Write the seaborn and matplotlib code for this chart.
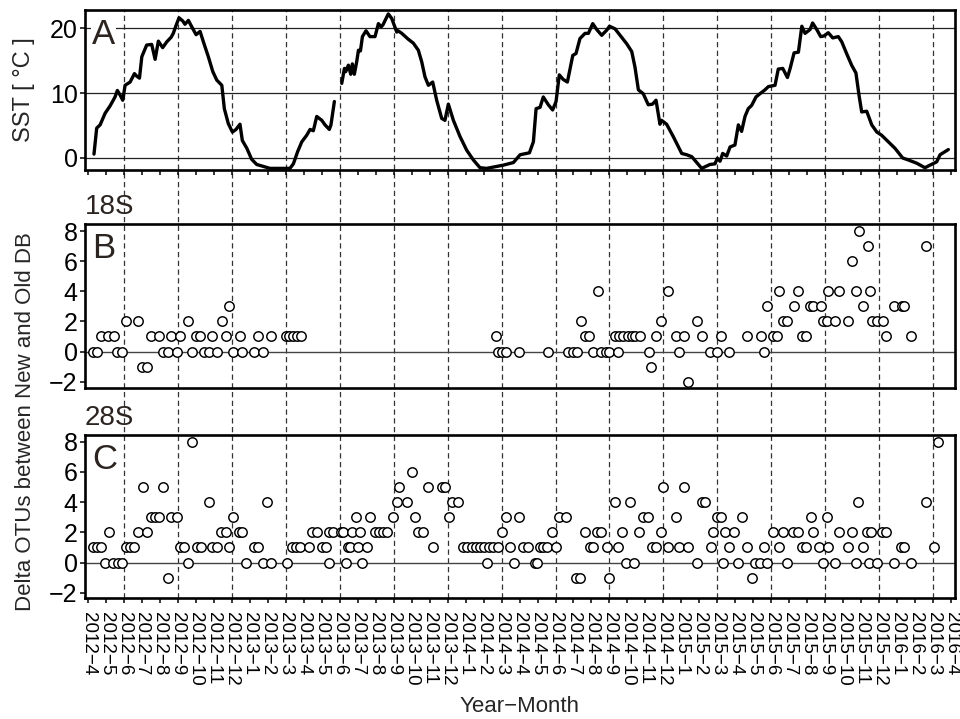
import matplotlib
matplotlib.use("Agg")
import numpy as np
import pandas as pd
import seaborn as sns
import matplotlib.pyplot as plt
from matplotlib.lines import Line2D
from matplotlib.transforms import blended_transform_factory

# ---------------- data ----------------
# x tick labels: one per month, 2012-4 .. 2016-4
month_labels = ["2012-4", "2012-5", "2012-6", "2012-7", "2012-8", "2012-9", "2012-10", "2012-11", "2012-12",
                "2013-1", "2013-2", "2013-3", "2013-4", "2013-5", "2013-6", "2013-7", "2013-8", "2013-9",
                "2013-10", "2013-11", "2013-12", "2014-1", "2014-2", "2014-3", "2014-4", "2014-5", "2014-6",
                "2014-7", "2014-8", "2014-9", "2014-10", "2014-11", "2014-12", "2015-1", "2015-2", "2015-3",
                "2015-4", "2015-5", "2015-6", "2015-7", "2015-8", "2015-9", "2015-10", "2015-11", "2015-12",
                "2016-1", "2016-2", "2016-3", "2016-4"]

# SST time series (time in months since 2012-4 start), two sampling segments
sst_t = [0.33, 0.48, 0.67, 0.95, 1.22, 1.50, 1.63, 1.78, 1.93, 2.06, 2.34, 2.58, 2.71, 2.86, 2.99, 3.26, 3.54,
         3.73, 3.91, 4.15, 4.38, 4.62, 4.74, 4.88, 5.06, 5.27, 5.39, 5.58, 5.77, 6.01, 6.23, 6.45, 6.69, 6.94,
         7.16, 7.44, 7.58, 7.80, 8.03, 8.23, 8.45, 8.58, 8.83, 9.10, 9.38, 9.75, 10.12, 10.60, 11.23, 11.42,
         11.66, 11.89, 12.16, 12.35, 12.53, 12.72, 13.00, 13.18, 13.42, 13.51, 13.70,
         14.11, 14.26, 14.33, 14.48, 14.61, 14.70, 14.81, 14.94, 15.04, 15.15, 15.26, 15.46, 15.68, 15.96,
         16.15, 16.30, 16.40, 16.70, 16.89, 17.17, 17.24, 17.45, 17.81, 18.09, 18.37, 18.56, 18.74, 18.93,
         19.17, 19.39, 19.67, 19.85, 20.04, 20.32, 20.69, 21.06, 21.43, 21.80, 22.17, 22.73, 23.10, 23.66,
         24.03, 24.55, 24.77, 24.92, 25.14, 25.32, 25.60, 25.84, 26.03, 26.21, 26.43, 26.66, 26.96, 27.14,
         27.36, 27.64, 27.83, 28.07, 28.29, 28.57, 28.85, 29.00, 29.31, 29.59, 29.96, 30.24, 30.42, 30.61,
         30.88, 31.16, 31.40, 31.59, 31.81, 31.90, 32.18, 32.55, 33.02, 33.30, 33.58, 34.13, 34.59, 34.87,
         35.00, 35.15, 35.30, 35.52, 35.71, 35.98, 36.17, 36.35, 36.54, 36.72, 36.91, 37.15, 37.37, 37.65,
         37.84, 38.21, 38.39, 38.64, 38.90, 39.05, 39.27, 39.51, 39.70, 39.88, 40.16, 40.30, 40.53, 40.75,
         40.93, 41.17, 41.42, 41.73, 41.92, 42.19, 42.47, 42.71, 42.88, 43.03, 43.31, 43.59, 43.87, 44.14,
         44.51, 44.88, 45.31, 45.62, 46.09, 46.55, 46.83, 47.20, 47.39, 47.85]
sst_v = [0.6, 4.6, 5.1, 6.9, 8.0, 9.4, 10.4, 9.7, 8.9, 11.2, 11.7, 13.0, 12.6, 12.3, 15.6, 17.4, 17.5,
         15.2, 18.0, 17.0, 17.9, 18.6, 19.2, 20.3, 21.6, 21.1, 20.6, 21.2, 20.2, 19.0, 19.5, 17.6, 15.6, 13.3,
         12.0, 11.2, 7.6, 5.3, 4.0, 4.4, 5.2, 2.7, 1.5, -0.2, -1.0, -1.3, -1.6, -1.6, -1.6, -0.9,
         1.0, 2.5, 3.5, 4.4, 4.2, 6.4, 5.8, 5.1, 4.4, 5.1, 8.7,
         11.5, 13.8, 13.3, 14.3, 12.9, 14.5, 12.9, 14.8, 16.6, 16.5, 18.7, 19.6, 18.7, 18.7,
         20.7, 20.2, 20.5, 22.2, 21.5, 19.4, 19.6, 19.2, 18.3, 17.7, 16.6, 14.8, 12.5, 11.2,
         11.7, 8.9, 6.1, 5.8, 8.3, 5.8, 3.3, 1.2, -0.3, -1.5, -1.6, -1.3, -1.1, -0.7,
         0.5, 0.8, 2.5, 7.6, 7.8, 9.4, 8.2, 7.4, 8.7, 12.8, 12.1, 11.7, 15.8, 16.1,
         18.4, 19.2, 19.2, 20.7, 19.8, 18.9, 19.7, 20.3, 19.9, 18.9, 17.6, 16.4, 14.0, 10.5,
         9.9, 8.2, 8.3, 8.9, 5.2, 5.8, 5.2, 3.3, 0.7, 0.5, 0.2, -1.6, -1.0, -0.9,
         -0.05, -0.5, 0.7, 0.3, 1.7, 2.0, 5.1, 4.1, 6.4, 7.6, 8.1, 9.4, 9.9, 10.5,
         11.0, 11.2, 13.7, 13.8, 12.4, 13.8, 16.2, 16.3, 20.3, 19.2, 19.8, 20.8, 19.8, 18.7,
         18.8, 19.3, 18.5, 18.7, 17.9, 16.1, 14.3, 13.1, 9.7, 7.1, 7.2, 5.1, 4.0, 3.5,
         2.5, 1.5, 0.0, -0.3, -0.8, -1.5, -1.1, -0.6, 0.5, 1.3]
sst_seg = [1] * 61 + [2] * (len(sst_t) - 61)

# Panel B (18S): sampling time (months since 2012-4) and delta OTUs
b_t = [0.26, 0.50, 0.72, 1.13, 1.43, 1.63, 1.91, 2.11, 2.80, 3.00, 3.26, 3.49, 3.97, 4.15, 4.43, 4.63, 4.93,
       5.12, 5.58, 5.78, 6.01, 6.25, 6.45, 6.71, 6.91, 7.17, 7.44, 7.68, 7.86, 8.08, 8.44, 8.57, 9.23, 9.46,
       9.75, 10.16, 11.01, 11.20, 11.38, 11.61, 11.85,
       22.69, 22.82, 23.01, 23.25, 23.99, 25.58, 26.71, 26.96, 27.18, 27.40, 27.64, 27.88, 28.10, 28.38,
       28.53, 28.81, 28.99, 29.29, 29.49, 29.55, 29.77, 30.01, 30.24, 30.44, 30.70, 31.18, 31.31, 31.59,
       31.85, 32.28, 32.69, 32.89, 33.17, 33.39, 33.85, 34.13, 34.59, 35.00, 35.19, 35.65, 36.67, 37.41,
       37.61, 37.78, 38.08, 38.30, 38.45, 38.64, 38.89, 39.28, 39.51, 39.69, 39.93, 40.16, 40.34, 40.75,
       40.90, 41.08, 41.17, 41.55, 41.79, 42.29, 42.49, 42.71, 42.86, 43.08, 43.40, 43.49, 43.58, 43.86,
       44.23, 44.38, 44.85, 45.25, 45.40, 45.77, 46.61]
b_v = [0, 0, 1, 1, 1, 0, 0, 2, 2, -1, -1, 1, 1, 0, 0, 1, 0,
       1, 2, 0, 1, 1, 0, 0, 1, 0, 2, 1, 3, 0, 1, 0, 0, 1,
       0, 1, 1, 1, 1, 1, 1,
       1, 0, 0, 0, 0, 0, 0, 0, 0, 2, 1, 1, 0, 4,
       0, 0, 0, 1, 0, 1, 1, 1, 1, 1, 1, 0, -1, 1,
       2, 4, 1, 0, 1, -2, 2, 1, 0, 0, 1, 0, 1, 1,
       0, 3, 1, 1, 4, 2, 2, 3, 4, 1, 1, 3, 3, 3,
       2, 2, 4, 2, 4, 2, 6, 4, 8, 3, 7, 4, 2, 2,
       2, 1, 3, 3, 3, 1, 7]

# Panel C (28S)
c_t = [0.26, 0.50, 0.72, 0.95, 1.19, 1.41, 1.65, 1.89, 2.11, 2.34, 2.58, 2.80, 3.04, 3.26, 3.49, 3.73, 3.97,
       4.19, 4.47, 4.62, 4.93, 5.12, 5.36, 5.58, 5.80, 6.05, 6.28, 6.73, 6.91, 7.16, 7.38, 7.66, 7.84, 8.08,
       8.40, 8.58, 8.79, 9.23, 9.47, 9.72, 9.94, 10.16, 11.09, 11.33, 11.55, 11.79, 12.31, 12.48, 12.72,
       13.00, 13.24, 13.40, 13.40, 13.64, 14.05, 14.20, 14.33, 14.48, 14.57, 14.67, 14.89, 15.04, 15.13,
       15.22, 15.50, 15.68, 15.96, 16.18, 16.43, 16.65, 16.94, 17.17, 17.30, 17.76, 18.04, 18.19, 18.37,
       18.65, 18.93, 19.21, 19.67, 19.86, 20.08, 20.26, 20.60, 20.87, 21.10, 21.34, 21.58, 21.80, 22.02,
       22.21, 22.32, 22.54, 22.82, 23.01, 23.25, 23.47, 23.71, 23.99, 24.18, 24.49, 24.86, 24.99, 25.14,
       25.29, 25.51, 25.79, 26.03, 26.20, 26.59, 27.12, 27.36, 27.64, 27.92, 28.10, 28.29, 28.51, 28.85,
       28.99, 29.31, 29.49, 29.68, 29.90, 30.14, 30.38, 30.66, 30.89, 31.16, 31.35, 31.59, 31.85, 31.96,
       32.24, 32.69, 32.89, 33.17, 33.39, 33.85, 34.13, 34.31, 34.63, 34.74, 35.00, 35.19, 35.30, 35.43,
       35.67, 35.93, 36.17, 36.36, 36.63, 36.95, 37.10, 37.37, 37.61, 37.78, 38.12, 38.45, 38.64, 38.89,
       39.23, 39.51, 39.69, 39.93, 40.19, 40.30, 40.67, 40.90, 41.08, 41.17, 41.55, 41.79, 42.29, 42.47,
       42.71, 42.84, 43.08, 43.34, 43.45, 43.53, 43.86, 44.14, 44.38, 44.85, 45.20, 45.38, 45.77, 46.60,
       47.06, 47.25]
c_v = [1, 1, 1, 0, 2, 0, 0, 0, 1, 1, 1, 2, 5, 2, 3, 3, 3,
       5, -1, 3, 3, 1, 1, 0, 8, 1, 1, 4, 1, 1, 2, 2, 1, 3,
       2, 2, 0, 1, 1, 0, 4, 0, 0, 1, 1, 1, 1, 2, 2,
       1, 1, 0, 2, 2, 2, 2, 0, 1, 1, 2, 3, 1, 2,
       0, 1, 3, 2, 2, 2, 2, 3, 4, 5, 4, 6, 3, 2,
       2, 5, 1, 5, 5, 3, 4, 4, 1, 1, 1, 1, 1, 1,
       0, 1, 1, 1, 2, 3, 1, 0, 3, 1, 1, 0, 0, 1,
       1, 1, 2, 1, 3, 3, -1, -1, 2, 1, 1, 2, 2, 1,
       -1, 4, 1, 2, 0, 4, 0, 2, 3, 3, 1, 1, 2, 5,
       1, 3, 1, 5, 1, 0, 4, 4, 1, 2, 3, 3, 0, 2,
       1, 2, 0, 3, 1, -1, 0, 0, 1, 0, 2, 1, 2, 0,
       2, 2, 1, 1, 3, 2, 1, 0, 3, 1, 0, 2, 1, 2,
       0, 4, 1, 2, 0, 2, 0, 2, 2, 0, 1, 1, 0, 4,
       1, 8]

sst_ticks = [0, 10, 20]
delta_ticks = [-2, 0, 2, 4, 6, 8]

# ---------------- style ----------------
sns.set_style("ticks")
plt.rcParams["font.family"] = ["Liberation Sans", "DejaVu Sans"]
plt.rcParams["axes.unicode_minus"] = True

fig = plt.figure(figsize=(9.6, 7.19), dpi=100)
W, H = 960.0, 719.0
left, width = 85 / W, 870 / W
axA = fig.add_axes([left, 1 - 170 / H, width, 160 / H])
axB = fig.add_axes([left, 1 - 388 / H, width, 164 / H])
axC = fig.add_axes([left, 1 - 598 / H, width, 163 / H])

sst_df = pd.DataFrame({"t": sst_t, "v": sst_v, "seg": sst_seg})
b_df = pd.DataFrame({"t": b_t, "v": b_v})
c_df = pd.DataFrame({"t": c_t, "v": c_v})

label_color = "#2b2420"
xpos = np.arange(len(month_labels))
xlim = (-0.17, len(month_labels) - 1 + 0.22)

# Panel A
for y in sst_ticks:
    axA.axhline(y, color="#222222", lw=0.9, zorder=1)
sns.lineplot(data=sst_df, x="t", y="v", units="seg", estimator=None, sort=False,
             color="black", lw=2.4, ax=axA, legend=False, zorder=3)
axA.set_ylim(-1.85, 22.8)
axA.set_yticks(sst_ticks)

# Panels B and C
for ax, df, ylim in [(axB, b_df, (-2.42, 8.47)), (axC, c_df, (-2.35, 8.45))]:
    ax.axhline(0, color="#444444", lw=1.0, zorder=1)
    sns.scatterplot(data=df, x="t", y="v", ax=ax, marker="o", s=46, color="white",
                    edgecolor="black", linewidth=1.05, zorder=3, legend=False)
    ax.set_ylim(*ylim)
    ax.set_yticks(delta_ticks)

for ax in (axA, axB, axC):
    ax.set_xlim(*xlim)
    ax.set_xticks(xpos)
    ax.set_xlabel("")
    ax.set_ylabel("")
    ax.patch.set_visible(False)
    for s in ax.spines.values():
        s.set_linewidth(1.9)
        s.set_color("black")
    ax.tick_params(axis="both", direction="out", length=3.8, width=1.1, color="black",
                   labelsize=18, pad=1.5, labelcolor="black")

axA.tick_params(axis="x", labelbottom=False)
axB.tick_params(axis="x", length=0, labelbottom=False)
axC.set_xticklabels([m.replace("-", "\u2212") for m in month_labels], rotation=-90,
                    fontsize=13.5, ha="center", va="top")
axC.tick_params(axis="x", pad=6.5)

# quarterly dashed guide lines across all panels
quarter_idx = [i for i, m in enumerate(month_labels) if int(m.split("-")[1]) % 3 == 0]
trans = blended_transform_factory(axC.transData, fig.transFigure)
for q in quarter_idx:
    fig.add_artist(Line2D([q, q], [1 - 598 / H, 1 - 10 / H], transform=trans, color="#333333",
                          lw=0.9, linestyle=(0, (4.2, 2.8)), zorder=-1))

# panel letters and titles
for ax, letter in [(axA, "A"), (axB, "B"), (axC, "C")]:
    ax.annotate(letter, xy=(0, 1), xycoords="axes fraction", xytext=(5, -6),
                textcoords="offset points", ha="left", va="top", fontsize=25, color=label_color,
                zorder=5, bbox=dict(facecolor="white", edgecolor="none", pad=1.0))
for ax, title in [(axB, "18S"), (axC, "28S")]:
    ax.annotate(title, xy=(0, 1), xycoords="axes fraction", xytext=(0, 7.5),
                textcoords="offset points", ha="left", va="baseline", fontsize=20, color=label_color)

fig.text(24 / W, 1 - 90 / H, "SST [ °C ]", rotation=90, ha="center", va="center", fontsize=17)
fig.text(26 / W, 1 - 422 / H, "Delta OTUs between New and Old DB", rotation=90,
         ha="center", va="center", fontsize=16)
fig.text(520 / W, 1 - 712 / H, "Year\u2212Month", ha="center", va="baseline", fontsize=16)

fig.savefig("out.png", dpi=100)
